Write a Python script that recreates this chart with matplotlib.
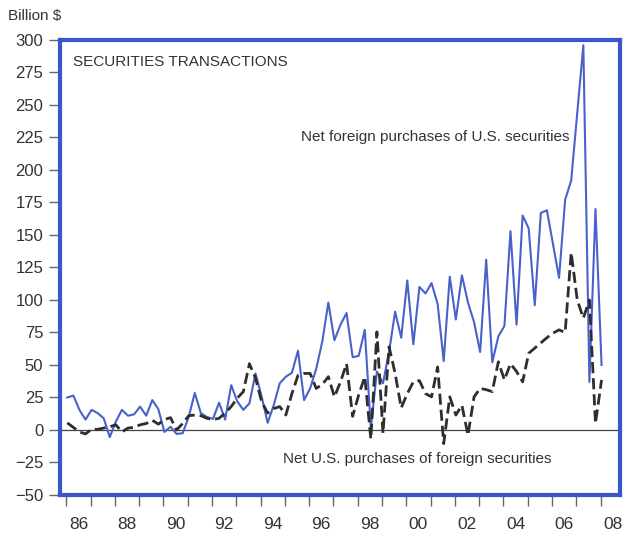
import matplotlib
matplotlib.use('Agg')
import matplotlib.pyplot as plt
import pandas as pd

plt.rcParams['font.family'] = ['Liberation Sans Narrow', 'Liberation Sans', 'DejaVu Sans']

# quarterly data, billion $
quarters = pd.period_range('1986Q1', '2008Q1', freq='Q')

foreign_buy_us = [
    25, 26.5, 15.5, 8, 15.5, 13, 9, -5.5, 6.5, 15.5,
    11, 12, 18, 11, 23, 16, -1.5, 2.5, -3, -2.5,
    10, 28.5, 13, 10, 8.5, 21, 8, 34.5, 22, 15.5,
    20.5, 43.5, 26, 5.5, 19, 36, 41, 44, 61, 23,
    32, 47, 68, 98, 69, 81, 90, 56, 57, 77,
    1.5, 45, 36, 60, 91, 71, 115, 66, 110, 105,
    113, 97, 53, 118, 85, 119, 98, 83, 60, 131,
    52, 72, 80, 153, 81, 165, 155, 96, 167, 169,
    143, 117, 177, 192, 244, 296, 37, 170, 50,
]

us_buy_foreign = [
    5.5, 2, -1.5, -3, 0.5, 0.5, 1.5, 2.5, 4, -1.5,
    1.5, 2, 4, 5, 7.5, 4.5, 8, 9.5, 0, 5,
    11, 11.5, 11, 9, 8, 9, 13, 18, 24.5, 29.5,
    51, 40, 22, 13, 16.5, 18, 11.5, 28, 42, 43.5,
    43.5, 32, 35, 41, 25.5, 37, 51, 10.5, 27, 41,
    -7, 75.5, -2.5, 64, 43.5, 17, 28, 37, 38, 28,
    25.5, 48.5, -10.5, 25.5, 11.5, 19, -4, 25.5, 32, 31,
    29.5, 52.5, 38.5, 51, 45, 37, 59, 63, 67, 71,
    74.5, 77, 75, 136.5, 100, 86, 100, 5, 38.5,
]

year_labels = ['86', '88', '90', '92', '94', '96', '98', '00', '02', '04', '06', '08']
label_years = [1986, 1988, 1990, 1992, 1994, 1996, 1998, 2000, 2002, 2004, 2006, 2008]

t = quarters.year + (quarters.quarter - 1) / 4 + 0.04

frame_blue = '#3a56c8'
line_blue = '#4862c9'
text_col = '#333333'

fig = plt.figure(figsize=(6.23, 5.33), dpi=100)
ax = fig.add_axes([0.0963, 0.0713, 0.8989, 0.8537])

ax.axhline(0, color='#444444', lw=0.9, zorder=1)
ax.plot(t, foreign_buy_us, color=line_blue, lw=1.5, zorder=2)
ax.plot(t, us_buy_foreign, color='#2e2e2e', lw=2.0, dashes=(4, 1.8), zorder=3)

ax.set_xlim(1985.74, 2008.8)
ax.set_ylim(-50, 300)

for s in ax.spines.values():
    s.set_color(frame_blue)
    s.set_linewidth(3)

ax.set_yticks(range(-50, 301, 25))
ax.tick_params(axis='y', direction='out', length=8, width=1, color='#666666',
               pad=4, labelsize=12, labelcolor=text_col)

ax.set_xticks(range(1986, 2009))
ax.set_xticklabels([])
ax.set_xticks([y + 0.5 for y in label_years], minor=True)
ax.set_xticklabels(year_labels, minor=True)
ax.tick_params(axis='x', which='major', direction='out', length=8, width=1, color='#666666')
ax.tick_params(axis='x', which='minor', length=0, pad=16, labelsize=12.5, labelcolor=text_col)

ax.text(0.023, 0.952, 'SECURITIES TRANSACTIONS', transform=ax.transAxes,
        ha='left', va='center', fontsize=11, color=text_col)
ax.text(2006.74, 225, 'Net foreign purchases of U.S. securities',
        ha='right', va='center', fontsize=11, color=text_col)
ax.text(1994.92, -22, 'Net U.S. purchases of foreign securities',
        ha='left', va='center', fontsize=11, color=text_col)

fig.text(0.013, 0.97, 'Billion $', ha='left', va='center', fontsize=11, color=text_col)

fig.savefig('out.png', dpi=100)
